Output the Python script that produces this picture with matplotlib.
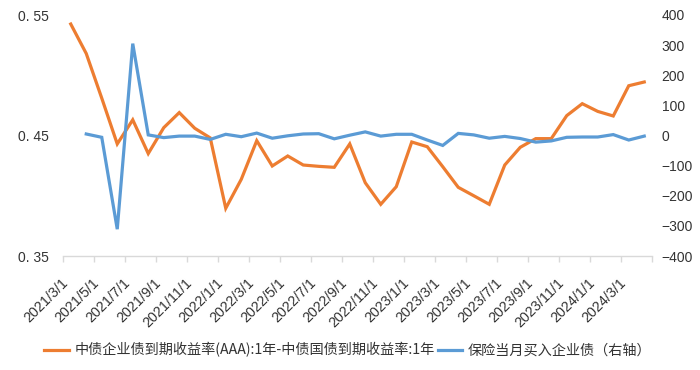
import matplotlib
matplotlib.use("Agg")
import matplotlib.pyplot as plt
import numpy as np

# 月度类别：2021/3 - 2024/4
months = []
for y, ms in [(2021, range(3, 13)), (2022, range(1, 13)), (2023, range(1, 13)), (2024, range(1, 5))]:
    months += [f"{y}/{m}/1" for m in ms]

# 中债企业债(AAA)1年 - 中债国债1年 利差 (左轴)
spread = [0.5425, 0.518, 0.481, 0.443, 0.463, 0.435, 0.4565, 0.469, 0.456, 0.448,
          0.3896, 0.4136, 0.4457, 0.4247, 0.433, 0.4255, 0.4244, 0.4236, 0.443, 0.4108,
          0.3929, 0.4075, 0.4446, 0.4407, 0.4241, 0.407, 0.400, 0.3929, 0.4255, 0.4402,
          0.4474, 0.4474, 0.4665, 0.4764, 0.470, 0.4662, 0.4913, 0.4944]

# 保险当月买入企业债 (右轴)
insurance = [np.nan, 5, -6, -311, 305, 2, -7, -2, -2, -13,
             4, -4, 8, -9, -1, 5, 6, -11, 1, 12,
             -2, 4, 4, -15, -33, 7, 2, -9, -3, -10,
             -22, -18, -6, -5, -5, 3, -15, -2]

left_ticks = [0.35, 0.45, 0.55]
left_labels = ["0. 35", "0. 45", "0. 55"]
right_ticks = list(range(-400, 401, 100))

label1 = "中债企业债到期收益率(AAA):1年-中债国债到期收益率:1年"
label2 = "保险当月买入企业债（右轴）"

ORANGE = "#ED7D31"
BLUE = "#5B9BD5"
TXT = "#333333"

plt.rcParams["font.family"] = ["Liberation Sans", "Noto Sans CJK SC", "DejaVu Sans"]

fig = plt.figure(figsize=(7, 3.7), dpi=100)
ax = fig.add_axes([63 / 700, 1 - 256 / 370, 589 / 700, 241 / 370])
ax2 = ax.twinx()

x = np.arange(len(months))
l1, = ax.plot(x, spread, color=ORANGE, lw=2.3, solid_joinstyle="miter")
l2, = ax2.plot(x, insurance, color=BLUE, lw=2.3, solid_joinstyle="miter")

ax.set_xlim(-0.5, len(months) - 0.5)
ax.set_ylim(0.35, 0.55)
ax.set_yticks(left_ticks)
ax.set_yticklabels(left_labels)
ax2.set_ylim(-400, 400)
ax2.set_yticks(right_ticks)

# x 轴：每两个月一个标签，刻度线在类别边界
ax.set_xticks(x[::2])
ax.set_xticklabels(months[::2], rotation=45, ha="right", va="top")
ax.set_xticks(np.arange(-0.5, len(months), 2), minor=True)
ax.tick_params(axis="x", which="major", length=0, pad=14, labelsize=10.3, colors=TXT)
ax.tick_params(axis="x", which="minor", length=4, color="#D9D9D9", width=1)
ax.tick_params(axis="y", length=0, pad=10, labelsize=10, colors=TXT)
ax2.tick_params(axis="y", length=0, pad=7, labelsize=10, colors=TXT)

for a in (ax, ax2):
    for s in ["top", "left", "right", "bottom"]:
        a.spines[s].set_visible(False)
ax.spines["bottom"].set_visible(True)
ax.spines["bottom"].set_color("#D9D9D9")
ax.spines["bottom"].set_linewidth(1)

leg = fig.legend([l1, l2], [label1, label2], loc="center", bbox_to_anchor=(0.497, 0.054),
                 ncol=2, frameon=False, handlelength=1.7, handletextpad=0.4,
                 columnspacing=0.25, prop={"family": ["Noto Sans CJK SC", "DejaVu Sans"], "size": 10.2})
for t in leg.get_texts():
    t.set_color(TXT)

fig.savefig("out.png", dpi=100)
